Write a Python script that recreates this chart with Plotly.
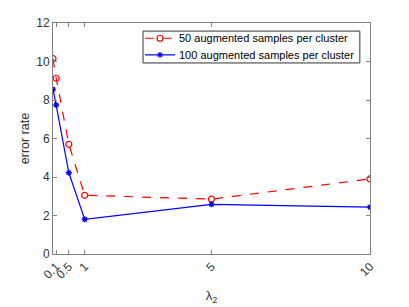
import plotly.graph_objects as go

lambda2 = [0, 0.1, 0.5, 1, 5, 10]
err_50 = [10.15, 9.13, 5.7, 3.05, 2.85, 3.9]
err_100 = [8.55, 7.74, 4.22, 1.8, 2.58, 2.43]
x_ticks = [0.1, 0.5, 1, 5, 10]
x_ticklabels = ["0.1", "0.5", "1", "5", "10"]
y_ticks = [0, 2, 4, 6, 8, 10, 12]
series_names = ["50 augmented samples per cluster", "100 augmented samples per cluster"]

RED = "#ff0000"
BLUE = "#0000ff"
FONT = "Liberation Sans, Arial, sans-serif"

fig = go.Figure()
fig.add_trace(go.Scatter(
    x=lambda2, y=err_50, mode="lines+markers", name=series_names[0],
    line=dict(color=RED, width=1.2, dash="dash"),
    marker=dict(symbol="circle-open", size=6, color=RED, line=dict(width=1.2)),
    showlegend=False,
))
fig.add_trace(go.Scatter(
    x=lambda2, y=err_100, mode="lines+markers", name=series_names[1],
    line=dict(color=BLUE, width=1.2),
    marker=dict(symbol="asterisk-open", size=5, color=BLUE, line=dict(width=1.3, color=BLUE)),
    showlegend=False,
))

axis_common = dict(
    showline=True, linecolor="#808080", linewidth=1, mirror="ticks",
    ticks="inside", ticklen=4, tickcolor="#808080", showgrid=False, zeroline=False,
    automargin=False,
    tickfont=dict(family=FONT, size=12, color="#333333"),
)
fig.update_xaxes(range=[0, 10], tickvals=x_ticks, ticktext=x_ticklabels, tickangle=-45,
                 title=dict(text="λ<sub>2</sub>", font=dict(size=13, color="#333333"), standoff=10),
                 **axis_common)
fig.update_yaxes(range=[0, 12], tickvals=y_ticks,
                 title=dict(text="error rate", font=dict(size=12.5, color="#333333"), standoff=3),
                 **axis_common)

# compact legend drawn in paper coordinates
shapes = [dict(type="rect", xref="paper", yref="paper", x0=0.284, x1=0.968, y0=0.827, y1=0.965,
               line=dict(color="#333333", width=1), fillcolor="white", layer="above")]
annotations = []
rows = [(0.934, RED, "dash", "circle"), (0.862, BLUE, "solid", "asterisk")]
for (yy, col, dash, mk), name in zip(rows, series_names):
    shapes.append(dict(type="line", xref="paper", yref="paper", x0=0.290, x1=0.385, y0=yy, y1=yy,
                       line=dict(color=col, width=1.2, dash=dash), layer="above"))
    if mk == "circle":
        shapes.append(dict(type="circle", xref="paper", yref="paper", xsizemode="pixel", ysizemode="pixel",
                           xanchor=0.3375, yanchor=yy, x0=-3, x1=3, y0=-3, y1=3,
                           line=dict(color=col, width=1.2), fillcolor="white", layer="above"))
    else:
        for dx, dy in [(2.8, 0), (0, 2.8), (2, 2), (2, -2)]:
            shapes.append(dict(type="line", xref="paper", yref="paper", xsizemode="pixel", ysizemode="pixel",
                               xanchor=0.3375, yanchor=yy, x0=-dx, x1=dx, y0=-dy, y1=dy,
                               line=dict(color=col, width=1.2), layer="above"))
    annotations.append(dict(xref="paper", yref="paper", x=0.392, y=yy, xanchor="left", yanchor="middle",
                            text=name, showarrow=False, font=dict(family=FONT, size=11, color="#000000")))

fig.update_layout(
    width=401, height=299,
    margin=dict(l=45, r=39, t=15, b=53),
    paper_bgcolor="white", plot_bgcolor="white",
    font=dict(family=FONT, color="#333333"),
    shapes=shapes, annotations=annotations,
    showlegend=False,
)

fig.write_html("out.html")
